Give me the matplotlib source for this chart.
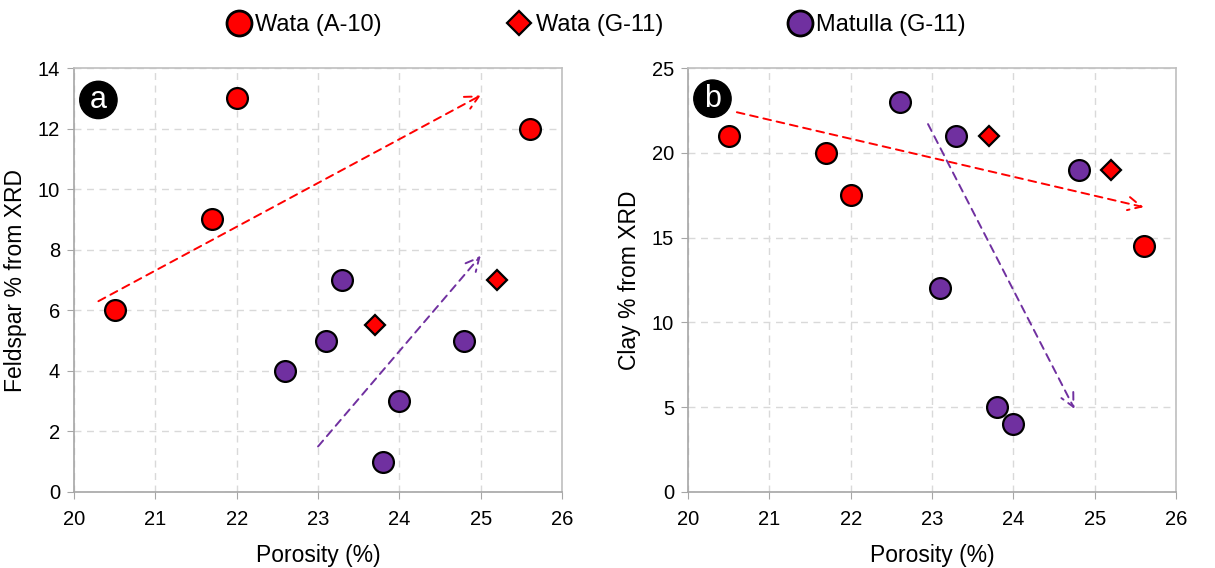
import matplotlib.pyplot as plt
from matplotlib.lines import Line2D

plt.rcParams['font.family'] = ['Liberation Sans', 'DejaVu Sans']

# Wata (A-10)
wa_por = [20.5, 21.7, 22.0, 25.6]
wa_feld = [6, 9, 13, 12]
wa_clay = [21, 20, 17.5, 14.5]

# Wata (G-11)
wg_por = [23.7, 25.2]
wg_feld = [5.5, 7]
wg_clay = [21, 19]

# Matulla (G-11)
m_por = [22.6, 23.1, 23.3, 23.8, 24.0, 24.8]
m_feld = [4, 5, 7, 1, 3, 5]
m_clay = [23, 12, 21, 5, 4, 19]

# trend arrows (start, end)
arrows_a = [((20.3, 6.3), (25.0, 13.1), 'red'), ((23.0, 1.5), (25.0, 7.8), '#7030A0')]
arrows_b = [((20.6, 22.4), (25.6, 16.8), 'red'), ((22.95, 21.7), (24.75, 4.9), '#7030A0')]

RED = '#FF0000'
PURPLE = '#7030A0'

fig = plt.figure(figsize=(12.15, 5.68), dpi=100)
ax1 = fig.add_axes([0.0609, 0.134, 0.4017, 0.746])
ax2 = fig.add_axes([0.5663, 0.134, 0.4017, 0.746])


def style(ax, ylim, yticks, ylabel):
    ax.set_xlim(20, 26)
    ax.set_ylim(*ylim)
    ax.set_xticks(range(20, 27))
    ax.set_yticks(yticks)
    ax.grid(True, ls=(0, (5, 4)), color='#d9d9d9', lw=1)
    ax.set_axisbelow(True)
    for s in ax.spines.values():
        s.set_color('#bfbfbf')
        s.set_linewidth(1.2)
    for s in ['left', 'bottom']:
        ax.spines[s].set_color('#a6a6a6')
    ax.tick_params(direction='out', length=5, color='#a6a6a6', labelsize=14.5, pad=5)
    ax.tick_params(axis='x', pad=8)
    ax.set_xlabel('Porosity (%)', fontsize=16.5, labelpad=11)
    ax.set_ylabel(ylabel, fontsize=16.5, labelpad=8)


def draw(ax, wy, gy, my, arrows, letter, ly):
    ax.plot(wa_por, wy, 'o', ms=15, mfc=RED, mec='black', mew=1.6, ls='none', zorder=3)
    ax.plot(wg_por, gy, 'D', ms=10.5, mfc=RED, mec='black', mew=1.6, ls='none', zorder=3)
    ax.plot(m_por, my, 'o', ms=15, mfc=PURPLE, mec='black', mew=1.6, ls='none', zorder=3)
    for (x0, y0), (x1, y1), c in arrows:
        ax.annotate('', xy=(x1, y1), xytext=(x0, y0),
                    arrowprops=dict(arrowstyle='->', color=c, lw=1.4, ls=(0, (4, 3)),
                                    mutation_scale=24, shrinkA=0, shrinkB=0))
    ax.text(20.3, ly, letter, fontsize=22, color='white', ha='center', va='center',
            bbox=dict(boxstyle='circle,pad=0.12', fc='black', ec='black'), zorder=4)


style(ax1, (0, 14), range(0, 15, 2), 'Feldspar % from XRD')
style(ax2, (0, 25), range(0, 26, 5), 'Clay % from XRD')
draw(ax1, wa_feld, wg_feld, m_feld, arrows_a, 'a', 12.95)
draw(ax2, wa_clay, wg_clay, m_clay, arrows_b, 'b', 23.2)

handles = [
    Line2D([], [], marker='o', ls='none', ms=18, mfc=RED, mec='black', mew=2),
    Line2D([], [], marker='D', ls='none', ms=12, mfc=RED, mec='black', mew=1.6),
    Line2D([], [], marker='o', ls='none', ms=18, mfc=PURPLE, mec='black', mew=2),
]
fig.legend(handles, ['Wata (A-10)', 'Wata (G-11)', 'Matulla (G-11)'], loc='upper center',
           bbox_to_anchor=(0.49, 1.012), ncol=3, frameon=False, fontsize=17,
           columnspacing=5.2, handletextpad=0.1, handlelength=1.2)

fig.savefig('out.png', dpi=100)
